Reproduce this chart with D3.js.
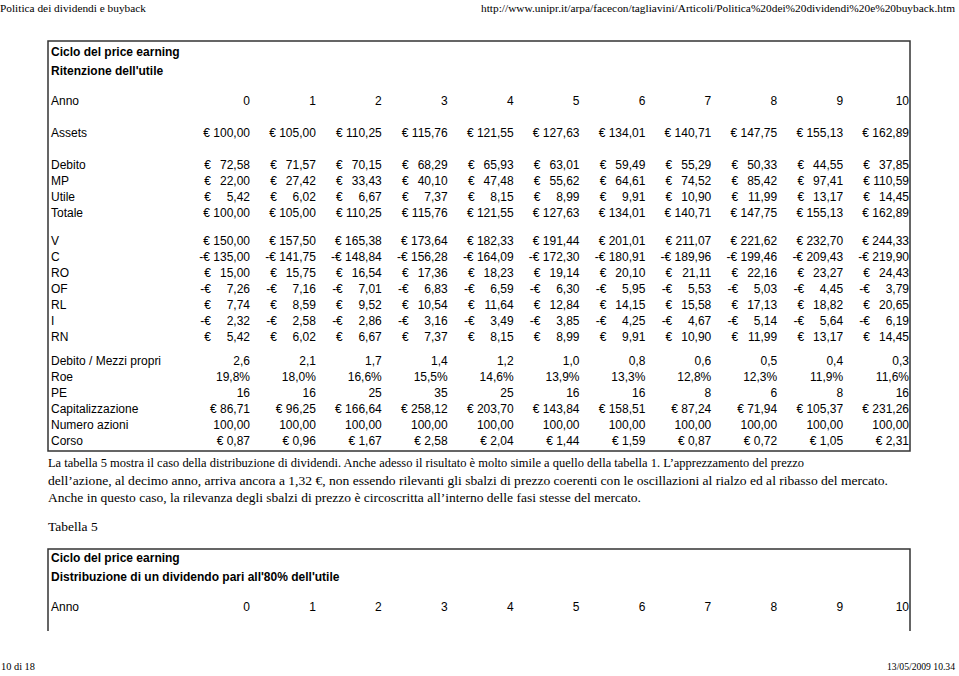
<!DOCTYPE html>
<html>
<head>
  <meta charset="utf-8">
  <script src="https://cdn.jsdelivr.net/npm/d3@7"></script>
  <style>
    body { margin: 0; background: #fff; }
    svg { display: block; }
    .cell { font-family: "Liberation Sans", Arial, sans-serif; font-size: 12px; fill: #000; }
    .bold { font-weight: bold; }
    .serif { font-family: "Liberation Serif", "Times New Roman", serif; fill: #000; }
  </style>
</head>
<body>
<script>
  // ---- data ----
  var years = [0, 1, 2, 3, 4, 5, 6, 7, 8, 9, 10];

  var assets  = [100.00, 105.00, 110.25, 115.76, 121.55, 127.63, 134.01, 140.71, 147.75, 155.13, 162.89];
  var debito  = [72.58, 71.57, 70.15, 68.29, 65.93, 63.01, 59.49, 55.29, 50.33, 44.55, 37.85];
  var mp      = [22.00, 27.42, 33.43, 40.10, 47.48, 55.62, 64.61, 74.52, 85.42, 97.41, 110.59];
  var utile   = [5.42, 6.02, 6.67, 7.37, 8.15, 8.99, 9.91, 10.90, 11.99, 13.17, 14.45];
  var totale  = [100.00, 105.00, 110.25, 115.76, 121.55, 127.63, 134.01, 140.71, 147.75, 155.13, 162.89];

  var ricavi  = [150.00, 157.50, 165.38, 173.64, 182.33, 191.44, 201.01, 211.07, 221.62, 232.70, 244.33];
  var costi   = [-135.00, -141.75, -148.84, -156.28, -164.09, -172.30, -180.91, -189.96, -199.46, -209.43, -219.90];
  var ro      = [15.00, 15.75, 16.54, 17.36, 18.23, 19.14, 20.10, 21.11, 22.16, 23.27, 24.43];
  var of      = [-7.26, -7.16, -7.01, -6.83, -6.59, -6.30, -5.95, -5.53, -5.03, -4.45, -3.79];
  var rl      = [7.74, 8.59, 9.52, 10.54, 11.64, 12.84, 14.15, 15.58, 17.13, 18.82, 20.65];
  var imposte = [-2.32, -2.58, -2.86, -3.16, -3.49, -3.85, -4.25, -4.67, -5.14, -5.64, -6.19];
  var rn      = [5.42, 6.02, 6.67, 7.37, 8.15, 8.99, 9.91, 10.90, 11.99, 13.17, 14.45];

  var debMezzi = [2.6, 2.1, 1.7, 1.4, 1.2, 1.0, 0.8, 0.6, 0.5, 0.4, 0.3];
  var roe      = [19.8, 18.0, 16.6, 15.5, 14.6, 13.9, 13.3, 12.8, 12.3, 11.9, 11.6];
  var pe       = [16, 16, 25, 35, 25, 16, 16, 8, 6, 8, 16];
  var capital  = [86.71, 96.25, 166.64, 258.12, 203.70, 143.84, 158.51, 87.24, 71.94, 105.37, 231.26];
  var azioni   = [100, 100, 100, 100, 100, 100, 100, 100, 100, 100, 100];
  var corso    = [0.87, 0.96, 1.67, 2.58, 2.04, 1.44, 1.59, 0.87, 0.72, 1.05, 2.31];

  var paragraph = [
    "La tabella 5 mostra il caso della distribuzione di dividendi. Anche adesso il risultato è molto simile a quello della tabella 1. L’apprezzamento del prezzo",
    "dell’azione, al decimo anno, arriva ancora a 1,32 €, non essendo rilevanti gli sbalzi di prezzo coerenti con le oscillazioni al rialzo ed al ribasso del mercato.",
    "Anche in questo caso, la rilevanza degli sbalzi di prezzo è circoscritta all’interno delle fasi stesse del mercato."
  ];

  // rows of table 4: label, values, format, space above the row
  var rows = [
    {label: 'Assets', values: assets, fmt: 'acc', gap: 32},
    {label: 'Debito', values: debito, fmt: 'acc', gap: 32},
    {label: 'MP', values: mp, fmt: 'acc', gap: 16},
    {label: 'Utile', values: utile, fmt: 'acc', gap: 16},
    {label: 'Totale', values: totale, fmt: 'acc', gap: 16},
    {label: 'V', values: ricavi, fmt: 'acc', gap: 28},
    {label: 'C', values: costi, fmt: 'acc', gap: 16},
    {label: 'RO', values: ro, fmt: 'acc', gap: 16},
    {label: 'OF', values: of, fmt: 'acc', gap: 16},
    {label: 'RL', values: rl, fmt: 'acc', gap: 16},
    {label: 'I', values: imposte, fmt: 'acc', gap: 16},
    {label: 'RN', values: rn, fmt: 'acc', gap: 16},
    {label: 'Debito / Mezzi propri', values: debMezzi, fmt: 'd1', gap: 24},
    {label: 'Roe', values: roe, fmt: 'pct', gap: 16},
    {label: 'PE', values: pe, fmt: 'int', gap: 16},
    {label: 'Capitalizzazione', values: capital, fmt: 'cur', gap: 16},
    {label: 'Numero azioni', values: azioni, fmt: 'num', gap: 16},
    {label: 'Corso', values: corso, fmt: 'cur', gap: 16}
  ];

  // ---- setup ----
  var W = 959, H = 676;
  var svg = d3.select('body').append('svg')
      .attr('width', W)
      .attr('height', H);

  var it = d3.formatLocale({decimal: ',', thousands: '.', grouping: [3], currency: ['€ ', '']});
  var f2 = it.format(',.2f'),
      f1 = it.format('.1f'),
      fInt = it.format('d');

  // right edge of every year column
  var x = d3.scalePoint().domain(years).range([250, 909]);
  var labelX = 51;

  function txt(sel, cls, xPos, yCenter, s, anchor) {
    return sel.append('text')
      .attr('class', cls)
      .attr('x', xPos)
      .attr('y', yCenter + 4)
      .attr('text-anchor', anchor || 'start')
      .text(s);
  }

  function cell(g, xr, yc, v, fmt) {
    if (fmt === 'acc') {
      var a = Math.abs(v);
      if (a >= 100) {
        txt(g, 'cell', xr, yc, (v < 0 ? '-€ ' : '€ ') + f2(a), 'end');
      } else {
        txt(g, 'cell', xr, yc, f2(a), 'end');
        txt(g, 'cell', xr - 39, yc, v < 0 ? '-€' : '€', 'end');
      }
    } else if (fmt === 'cur') {
      txt(g, 'cell', xr, yc, '€ ' + f2(v), 'end');
    } else if (fmt === 'd1') {
      txt(g, 'cell', xr, yc, f1(v), 'end');
    } else if (fmt === 'pct') {
      txt(g, 'cell', xr, yc, f1(v) + '%', 'end');
    } else if (fmt === 'int') {
      txt(g, 'cell', xr, yc, fInt(v), 'end');
    } else {
      txt(g, 'cell', xr, yc, f2(v), 'end');
    }
  }

  // page header / footer lines in the browser print style (start anchored, fitted width)
  function pageText(s, xLeft, yBase, len, size) {
    svg.append('text').attr('class', 'serif')
      .attr('x', xLeft).attr('y', yBase)
      .style('font-size', (size || 11) + 'px')
      .attr('textLength', len)
      .attr('lengthAdjust', 'spacingAndGlyphs')
      .text(s);
  }

  pageText('Politica dei dividendi e buyback', 0, 12, 146);
  pageText('http://www.unipr.it/arpa/facecon/tagliavini/Articoli/Politica%20dei%20dividendi%20e%20buyback.htm', W - 4 - 474, 12, 474);

  // ---- table 4 ----
  var t1 = svg.append('g');
  t1.append('rect')
    .attr('x', 48).attr('y', 41)
    .attr('width', 862).attr('height', 410)
    .attr('fill', 'none')
    .attr('stroke', '#333')
    .attr('stroke-width', 1.5);

  txt(t1, 'cell bold', labelX, 52, 'Ciclo del price earning');
  txt(t1, 'cell bold', labelX, 71, "Ritenzione dell'utile");

  var y = 101;
  txt(t1, 'cell', labelX, y, 'Anno');
  years.forEach(function(yr) {
    txt(t1, 'cell', x(yr), y, fInt(yr), 'end');
  });

  rows.forEach(function(r) {
    y += r.gap;
    txt(t1, 'cell', labelX, y, r.label);
    r.values.forEach(function(v, i) {
      cell(t1, x(years[i]), y, v, r.fmt);
    });
  });

  // ---- text between the tables ----
  var paraW = [756, 840, 593];
  paragraph.forEach(function(line, i) {
    svg.append('text').attr('class', 'serif')
      .attr('x', 48).attr('y', 467 + i * 17.5)
      .style('font-size', '13.5px')
      .attr('textLength', paraW[i])
      .attr('lengthAdjust', 'spacingAndGlyphs')
      .text(line);
  });
  svg.append('text').attr('class', 'serif')
    .attr('x', 48).attr('y', 531)
    .style('font-size', '13.5px')
    .text('Tabella 5');

  // ---- table 5 (cut by the page end) ----
  var t2 = svg.append('g');
  t2.append('path')
    .attr('d', 'M48,631V549H910V631')
    .attr('fill', 'none')
    .attr('stroke', '#333')
    .attr('stroke-width', 1.5);
  txt(t2, 'cell bold', labelX, 558, 'Ciclo del price earning');
  txt(t2, 'cell bold', labelX, 577, "Distribuzione di un dividendo pari all'80% dell'utile");
  txt(t2, 'cell', labelX, 607, 'Anno');
  years.forEach(function(yr) {
    txt(t2, 'cell', x(yr), 607, fInt(yr), 'end');
  });

  // ---- page footer ----
  pageText('10 di 18', 1, 670, 34);
  pageText('13/05/2009 10.34', W - 4 - 68, 670, 68, 9.5);
</script>
</body>
</html>
